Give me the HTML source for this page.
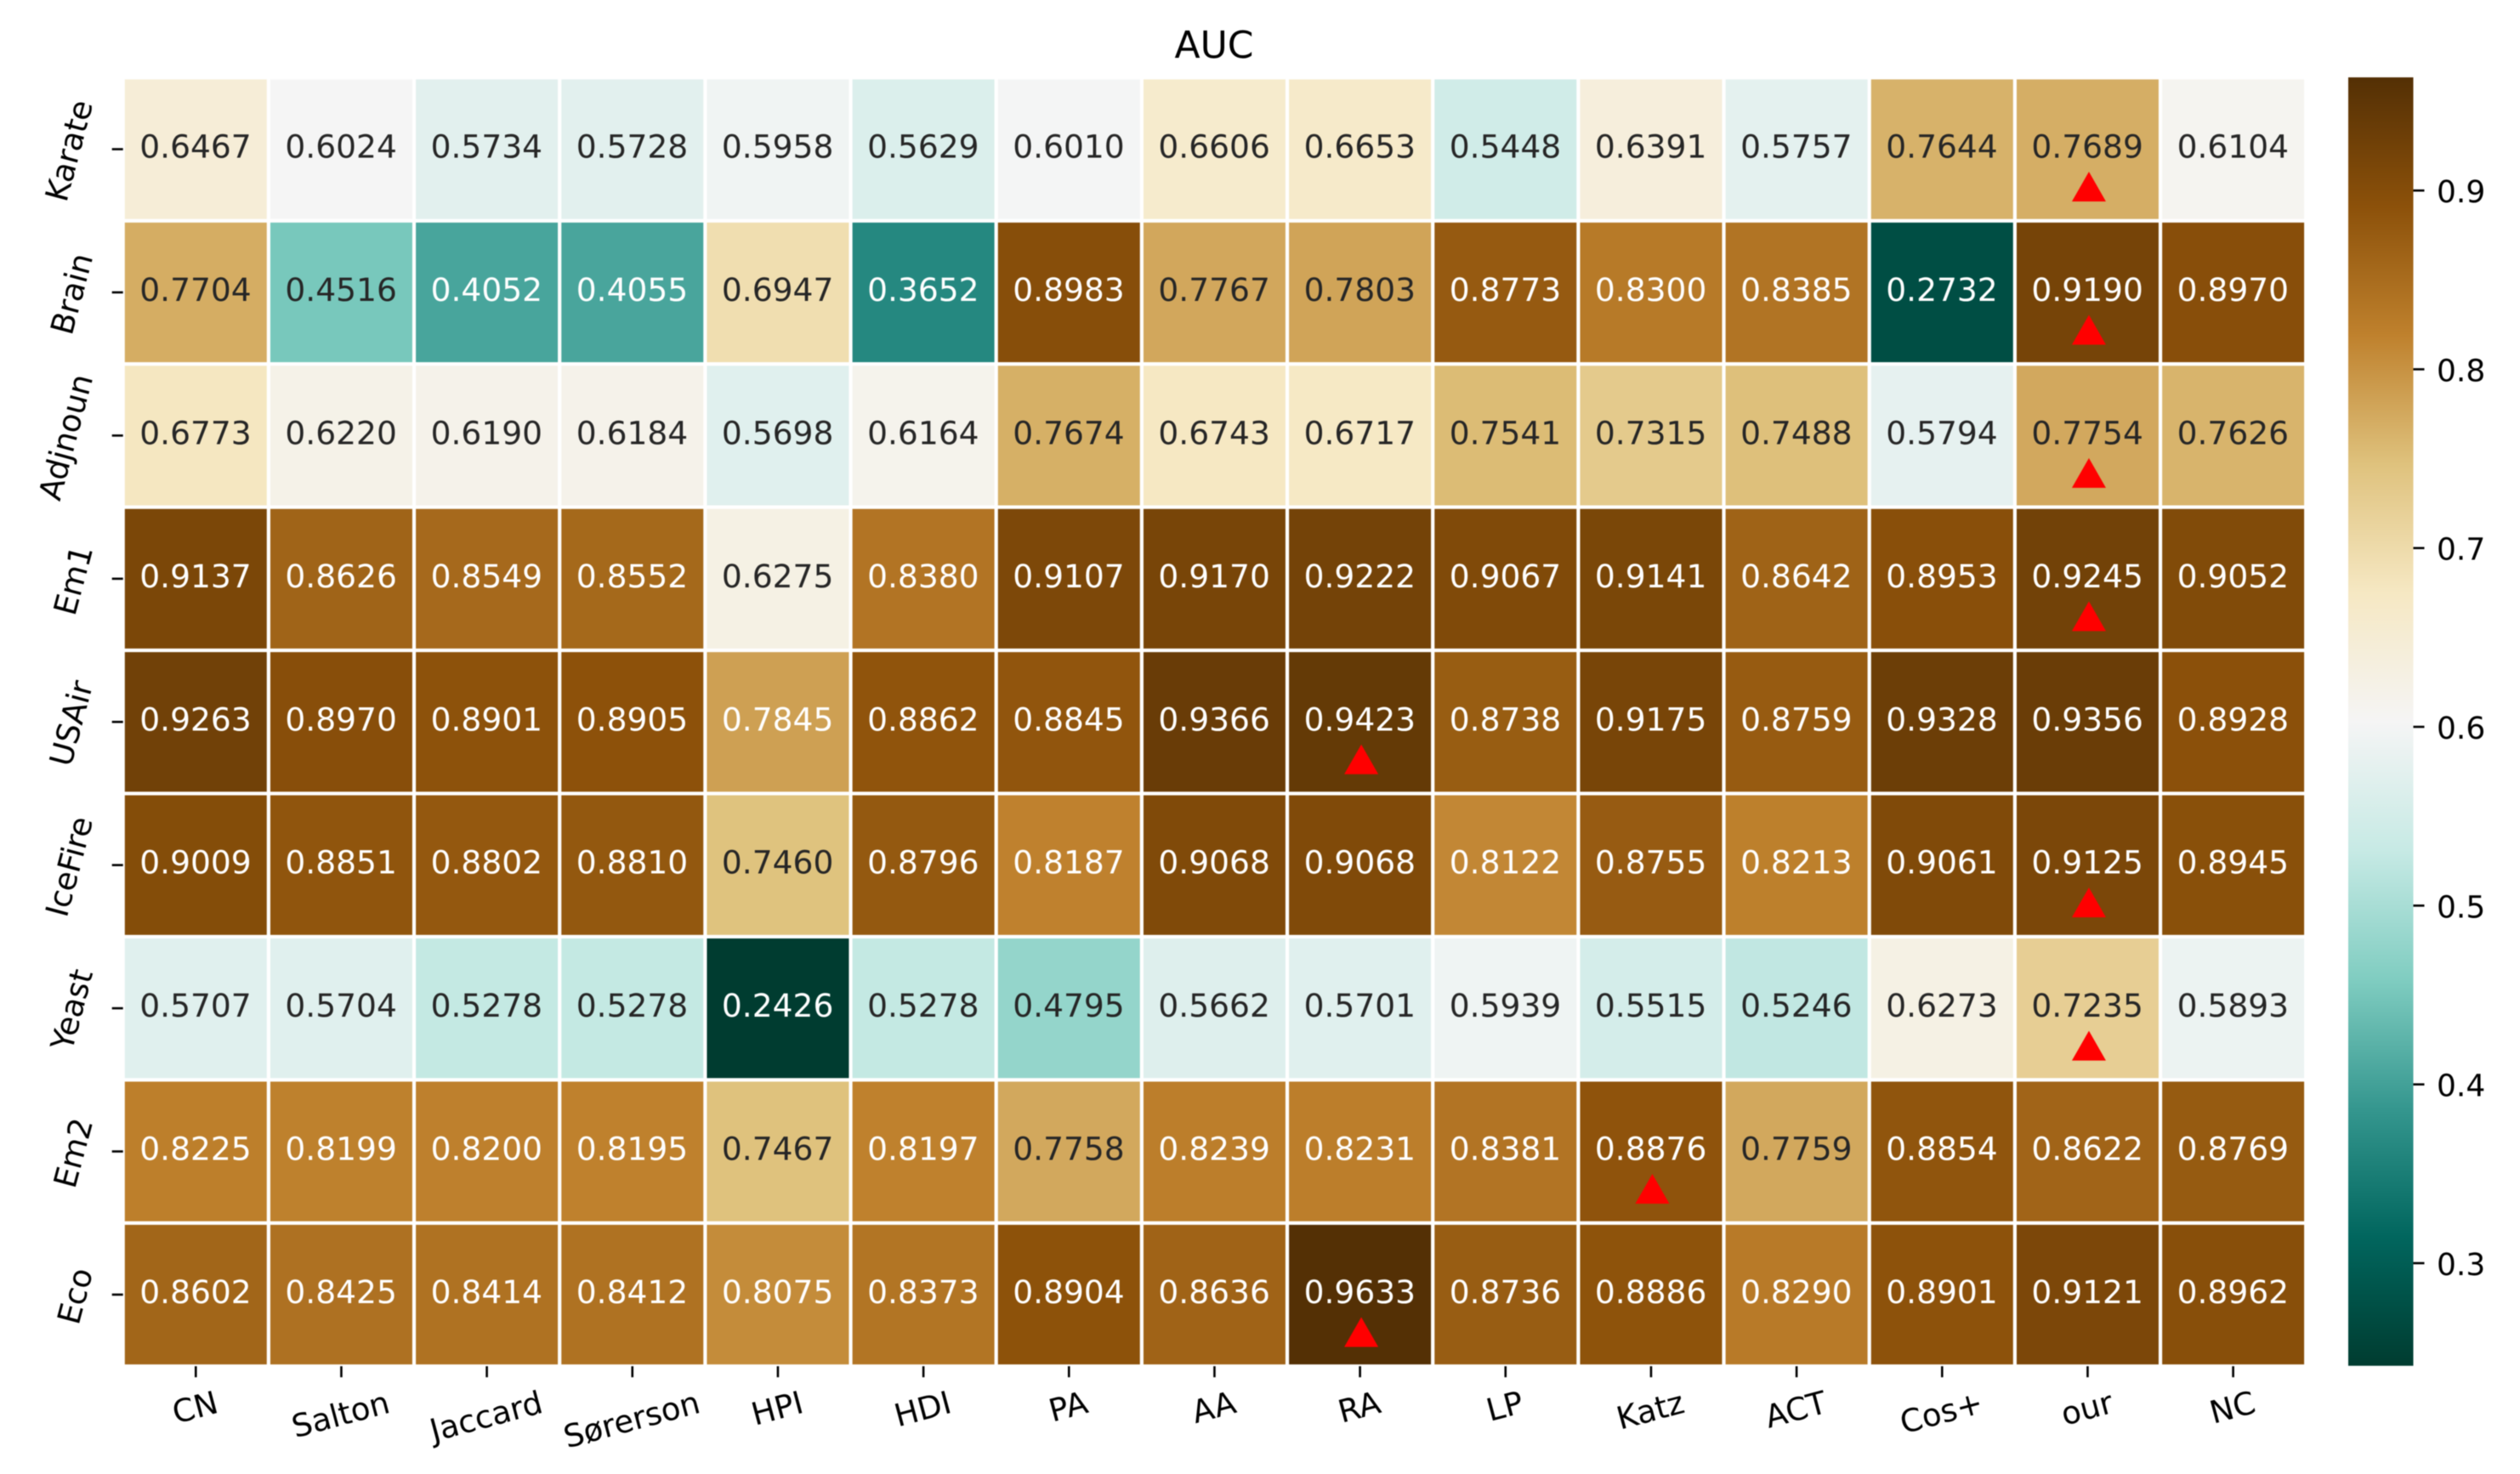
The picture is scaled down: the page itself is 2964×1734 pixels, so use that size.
<!DOCTYPE html>
<html lang="en">
<head>
<meta charset="utf-8">
<title>AUC heatmap</title>
<style>
html,body{margin:0;padding:0;background:#fff;width:2964px;height:1734px;overflow:hidden}
svg{display:block;filter:blur(0.6px)}
text{font-family:"DejaVu Sans","Liberation Sans",sans-serif;text-rendering:geometricPrecision}
</style>
</head>
<body>
<svg id="chart" xmlns="http://www.w3.org/2000/svg" width="2964" height="1734" viewBox="0 0 2964 1734">
  <defs>
    <linearGradient id="cbar-gradient" x1="0" y1="1" x2="0" y2="0"></linearGradient>
  </defs>
  <rect x="0" y="0" width="2964" height="1734" fill="#ffffff"></rect>
  <text x="1428" y="68" font-size="44" text-anchor="middle" fill="#000000">AUC</text>
</svg>
<script>
const methods = ["CN","Salton","Jaccard","Sørerson","HPI","HDI","PA","AA","RA","LP","Katz","ACT","Cos+","our","NC"];
const networks = ["Karate","Brain","Adjnoun","Em1","USAir","IceFire","Yeast","Em2","Eco"];
const karate = [0.6467,0.6024,0.5734,0.5728,0.5958,0.5629,0.6010,0.6606,0.6653,0.5448,0.6391,0.5757,0.7644,0.7689,0.6104];
const brain = [0.7704,0.4516,0.4052,0.4055,0.6947,0.3652,0.8983,0.7767,0.7803,0.8773,0.8300,0.8385,0.2732,0.9190,0.8970];
const adjnoun = [0.6773,0.6220,0.6190,0.6184,0.5698,0.6164,0.7674,0.6743,0.6717,0.7541,0.7315,0.7488,0.5794,0.7754,0.7626];
const em1 = [0.9137,0.8626,0.8549,0.8552,0.6275,0.8380,0.9107,0.9170,0.9222,0.9067,0.9141,0.8642,0.8953,0.9245,0.9052];
const usair = [0.9263,0.8970,0.8901,0.8905,0.7845,0.8862,0.8845,0.9366,0.9423,0.8738,0.9175,0.8759,0.9328,0.9356,0.8928];
const icefire = [0.9009,0.8851,0.8802,0.8810,0.7460,0.8796,0.8187,0.9068,0.9068,0.8122,0.8755,0.8213,0.9061,0.9125,0.8945];
const yeast = [0.5707,0.5704,0.5278,0.5278,0.2426,0.5278,0.4795,0.5662,0.5701,0.5939,0.5515,0.5246,0.6273,0.7235,0.5893];
const em2 = [0.8225,0.8199,0.8200,0.8195,0.7467,0.8197,0.7758,0.8239,0.8231,0.8381,0.8876,0.7759,0.8854,0.8622,0.8769];
const eco = [0.8602,0.8425,0.8414,0.8412,0.8075,0.8373,0.8904,0.8636,0.9633,0.8736,0.8886,0.8290,0.8901,0.9121,0.8962];
const colorbarTicks = [0.3,0.4,0.5,0.6,0.7,0.8,0.9];
const cmapAnchors = ["#003c30","#01665e","#35978f","#80cdc1","#c7eae5","#f5f5f5","#f6e8c3","#dfc27d","#bf812d","#8c510a","#543005"];

const rows = [karate,brain,adjnoun,em1,usair,icefire,yeast,em2,eco];
const SVGNS = "http://www.w3.org/2000/svg";
const svg = document.getElementById("chart");

const plot = {x0:144.7, y0:91.3, x1:2712.2, y1:1607.2};
const cbar = {x0:2762, x1:2838.5, y0:91, y1:1606.7};
const all = rows.reduce((a,r)=>a.concat(r),[]);
const vmin = Math.min.apply(null,all);
const vmax = Math.max.apply(null,all);

const colWidth = (plot.x1-plot.x0)/methods.length;
const rowHeight = (plot.y1-plot.y0)/networks.length;
function xBand(i){return plot.x0+colWidth*i;}
function yBand(i){return plot.y0+rowHeight*i;}
function xCenter(i){return xBand(i)+colWidth/2;}
function yCenter(i){return yBand(i)+rowHeight/2;}
function cbarY(v){return cbar.y1-(v-vmin)/(vmax-vmin)*(cbar.y1-cbar.y0);}

function hexToRgb(h){return [parseInt(h.substr(1,2),16),parseInt(h.substr(3,2),16),parseInt(h.substr(5,2),16)];}
function colorFor(v){
  const t = Math.max(0,Math.min(1,(v-vmin)/(vmax-vmin)))*(cmapAnchors.length-1);
  const i = Math.min(Math.floor(t),cmapAnchors.length-2);
  const f = t-i, a = hexToRgb(cmapAnchors[i]), b = hexToRgb(cmapAnchors[i+1]);
  return [0,1,2].map(k=>Math.round(a[k]+(b[k]-a[k])*f));
}
function luminance(c){
  const l = c.map(x=>{x=x/255;return x<=0.03928?x/12.92:Math.pow((x+0.055)/1.055,2.4);});
  return 0.2126*l[0]+0.7152*l[1]+0.0722*l[2];
}
function slug(s){return s.toLowerCase().replace(/[^a-z0-9]+/g,"-").replace(/-$/,"")||"x";}

function make(tag,attrs,parent){
  const el = document.createElementNS(SVGNS,tag);
  for(const k in attrs){el.setAttribute(k,attrs[k]);}
  (parent||svg).appendChild(el);
  return el;
}

/* cells */
const cellsGroup = make("g",{});


const GAP = 4.2;
rows.forEach((vals,r)=>{
  vals.forEach((v,c)=>{
    const col = colorFor(v);
    const cell = make("rect",{x:xBand(c)+GAP/2,y:yBand(r)+GAP/2,width:colWidth-GAP,height:rowHeight-GAP,fill:"rgb("+col.join(",")+")"},cellsGroup);
    
    
    const txt = make("text",{x:xCenter(c)-0.3,y:yCenter(r)+10,"font-size":37.6,"text-anchor":"middle",fill:luminance(col)<0.40?"#ffffff":"#262626"},cellsGroup);
    
    
    txt.textContent = v.toFixed(4);
  });
});

/* best-in-row markers */
rows.forEach((vals,r)=>{
  const best = vals.indexOf(Math.max.apply(null,vals));
  const cx = xCenter(best)+1.5, cy = yCenter(r);
  const tri = make("polygon",{points:(cx-20)+","+(cy+61.5)+" "+(cx+20)+","+(cy+61.5)+" "+cx+","+(cy+26.5),fill:"#ff0000"});
  
  
});

/* x axis */
const X_ANGLE = 15, Y_ANGLE = 75, LABEL_SIZE = 37;
const xRad = X_ANGLE*Math.PI/180, yRad = Y_ANGLE*Math.PI/180;
methods.forEach((m,i)=>{
  const cx = xCenter(i);
  const tick = make("line",{x1:cx,x2:cx,y1:plot.y1,y2:plot.y1+13,stroke:"#000000","stroke-width":2.6});
  
  
  const label = make("text",{"font-size":LABEL_SIZE,"text-anchor":"middle",fill:"#000000"});
  
  
  label.textContent = m;
  const w = label.getComputedTextLength();
  const cy = 1634+(w*Math.sin(xRad)+LABEL_SIZE*Math.cos(xRad))/2;
  label.setAttribute("x",cx);
  label.setAttribute("y",cy+0.26*LABEL_SIZE);
  label.setAttribute("transform","rotate(-"+X_ANGLE+" "+cx+" "+cy+")");
});

/* y axis */
networks.forEach((n,i)=>{
  const cy = yCenter(i);
  const tick = make("line",{x1:plot.x0-13,x2:plot.x0,y1:cy,y2:cy,stroke:"#000000","stroke-width":2.6});
  
  
  const label = make("text",{"font-size":LABEL_SIZE,"text-anchor":"middle",fill:"#000000"});
  
  
  label.textContent = n;
  const w = label.getComputedTextLength();
  const cx = 118-(w*Math.cos(yRad)+LABEL_SIZE*Math.sin(yRad))/2;
  const ty = cy+2.5;
  label.setAttribute("x",cx);
  label.setAttribute("y",ty+0.26*LABEL_SIZE);
  label.setAttribute("transform","rotate(-"+Y_ANGLE+" "+cx+" "+ty+")");
});

/* colorbar */
const grad = document.getElementById("cbar-gradient");
cmapAnchors.forEach((c,i)=>{
  make("stop",{offset:i/(cmapAnchors.length-1),"stop-color":c},grad);
});
const barRect = make("rect",{x:cbar.x0,y:cbar.y0,width:cbar.x1-cbar.x0,height:cbar.y1-cbar.y0,fill:"url(#cbar-gradient)"});


colorbarTicks.forEach(v=>{
  const y = cbarY(v);
  const tick = make("line",{x1:cbar.x1,x2:cbar.x1+13,y1:y,y2:y,stroke:"#000000","stroke-width":2.6});
  
  
  const label = make("text",{x:2866,y:y+14,"font-size":36,fill:"#000000"});
  
  
  label.textContent = v.toFixed(1);
});
</script>
</body>
</html>
